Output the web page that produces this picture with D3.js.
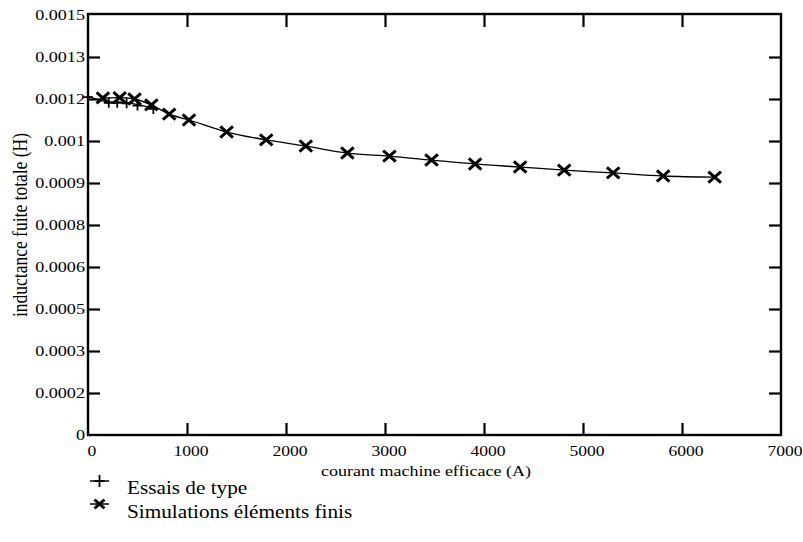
<!DOCTYPE html>
<html>
<head>
<meta charset="utf-8">
<script src="https://cdn.jsdelivr.net/npm/d3@7"></script>
<style>
  html, body { margin: 0; padding: 0; background: #fff; }
  svg { display: block; }
</style>
</head>
<body>
<svg id="chart" width="803" height="542"></svg>
<script>
// ---- data ----
const simCurrent = [150, 320, 470, 640, 820, 1020, 1400, 1800, 2200, 2620, 3045, 3470, 3910, 4365, 4810, 5305, 5810, 6330];
const simInductance = [0.001204, 0.001205, 0.001200, 0.001179, 0.001146, 0.001125, 0.001082, 0.001054, 0.001032, 0.001007, 0.000996, 0.000982, 0.000968, 0.000957, 0.000946, 0.000936, 0.000925, 0.000921];
const testCurrent = [0, 210, 295, 390, 500, 660];
const testInductance = [0.001210, 0.001190, 0.001190, 0.001188, 0.001180, 0.001168];
const xTickValues = [0, 1000, 2000, 3000, 4000, 5000, 6000, 7000];
const xTickLabels = ["0", "1000", "2000", "3000", "4000", "5000", "6000", "7000"];
const yTickValues = [0, 0.00015, 0.0003, 0.00045, 0.0006, 0.00075, 0.0009, 0.00105, 0.0012, 0.00135, 0.0015];
const yTickLabels = ["0", "0.0002", "0.0003", "0.0005", "0.0006", "0.0008", "0.0009", "0.001", "0.0012", "0.0013", "0.0015"];
const legendLabels = ["Essais de type", "Simulations éléments finis"];
const xTitle = "courant machine efficace (A)";
const yTitle = "inductance fuite totale (H)";

const FONT = "'Liberation Serif', 'Times New Roman', serif";
const SX = 1.17; // horizontal stretch of the printed type
const svg = d3.select("#chart");
const L = 88, R = 781, T = 15, B = 435;
const x = d3.scaleLinear().domain([0, 7000]).range([L, R]);
const y = d3.scaleLinear().domain([0, 0.0015]).range([B, T]);

const tickLen = 12;

// tick marks (inward) via d3 axes
const mk = (axis, tr) => svg.append("g").attr("transform", tr).call(axis);
mk(d3.axisLeft(y).tickValues(yTickValues.slice(1, -1)).tickSizeInner(-tickLen).tickSizeOuter(0).tickFormat(""), `translate(${L},0)`);
mk(d3.axisRight(y).tickValues(yTickValues.slice(1, -1)).tickSizeInner(-tickLen).tickSizeOuter(0).tickFormat(""), `translate(${R},0)`);
mk(d3.axisBottom(x).tickValues(xTickValues.slice(1, -1)).tickSizeInner(-tickLen).tickSizeOuter(0).tickFormat(""), `translate(0,${B})`);
mk(d3.axisTop(x).tickValues(xTickValues.slice(1, -1)).tickSizeInner(-tickLen).tickSizeOuter(0).tickFormat(""), `translate(0,${T})`);
svg.selectAll(".domain").remove();
svg.selectAll(".tick line").attr("stroke", "#000").attr("stroke-width", 2.2);

function label(g, tx, ty, txt, size, anchor, sx) {
  return g.append("text").attr("transform", `translate(${tx},${ty}) scale(${sx},1)`)
    .attr("text-anchor", anchor).style("font-family", FONT).style("font-size", size + "px")
    .attr("fill", "#000").text(txt);
}

// y tick labels
const gyl = svg.append("g");
yTickValues.forEach((v, i) => label(gyl, 85, y(v) + 5.3, yTickLabels[i], 15.5, "end", SX));
// x tick labels
const gxl = svg.append("g");
xTickValues.forEach((v, i) => label(gxl, x(v) + 4, 456, xTickLabels[i], 15, "middle", SX));

// frame
svg.append("rect").attr("x", L).attr("y", T - 1).attr("width", R - L).attr("height", B - T + 1)
  .attr("fill", "none").attr("stroke", "#000").attr("stroke-width", 2.4);

// titles
label(svg, 426, 476, xTitle, 15, "middle", 1.2);
svg.append("text").attr("transform", `translate(27,225) rotate(-90) scale(1,1.17)`).attr("text-anchor", "middle")
  .style("font-family", FONT).style("font-size", "17.5px").attr("fill", "#000").text(yTitle);

// lines
const simData = simCurrent.map((c, i) => [c, simInductance[i]]);
const testData = testCurrent.map((c, i) => [c, testInductance[i]]);
const line = d3.line().x(d => x(d[0])).y(d => y(d[1])).curve(d3.curveMonotoneX);
svg.append("path").datum(simData).attr("d", line).attr("fill", "none").attr("stroke", "#000").attr("stroke-width", 1.3);
svg.append("path").datum(testData).attr("d", line).attr("fill", "none").attr("stroke", "#000").attr("stroke-width", 1.3);

// markers
function drawPlus(g, cx, cy, sw, sh) {
  g.append("path").attr("d", `M${cx - sw},${cy}H${cx + sw}M${cx},${cy - sh}V${cy + sh}`)
    .attr("stroke", "#000").attr("stroke-width", 1.8).attr("fill", "none");
}
function drawX(g, cx, cy, s, sw) {
  g.append("path").attr("d", `M${cx - s},${cy - s * 0.88}L${cx + s},${cy + s * 0.88}M${cx - s},${cy + s * 0.88}L${cx + s},${cy - s * 0.88}`)
    .attr("stroke", "#000").attr("stroke-width", sw).attr("fill", "none");
}
const gm = svg.append("g");
testData.forEach(d => drawPlus(gm, x(d[0]), y(d[1]) + 1, 5, 5));
simData.forEach(d => drawX(gm, x(d[0]), y(d[1]), 6.3, 3));

// legend
const lg = svg.append("g");
lg.append("line").attr("x1", 90).attr("x2", 109).attr("y1", 481).attr("y2", 481).attr("stroke", "#000").attr("stroke-width", 1.5);
drawPlus(lg, 99.5, 481, 5, 6);
lg.append("line").attr("x1", 90).attr("x2", 109).attr("y1", 504).attr("y2", 504).attr("stroke", "#000").attr("stroke-width", 1.5);
drawX(lg, 99.5, 504, 5, 2.8);
legendLabels.forEach((t, i) => label(lg, 127, 494 + i * 24, t, 18, "start", 1.18));
</script>
</body>
</html>
